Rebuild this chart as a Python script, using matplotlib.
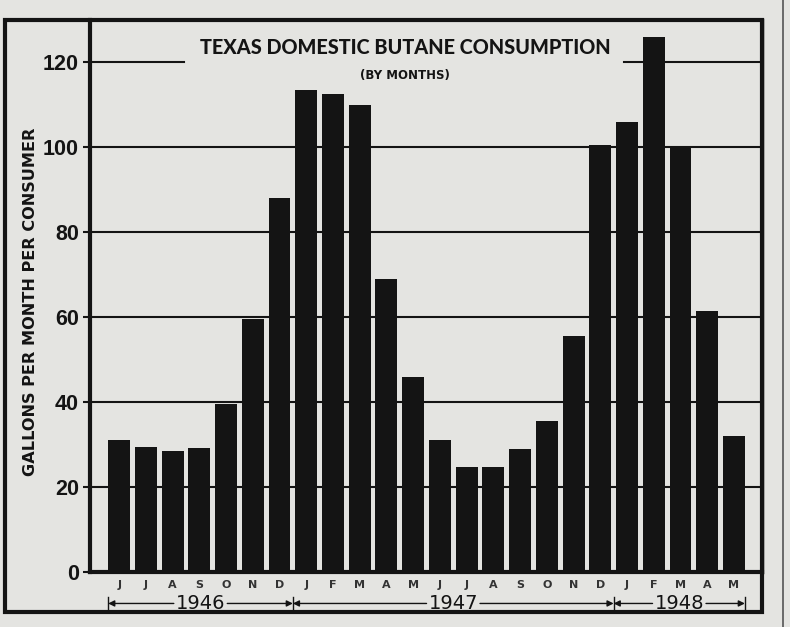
import numpy as np
import matplotlib.pyplot as plt
from matplotlib.patches import Rectangle
from matplotlib.lines import Line2D
import matplotlib.transforms as mtransforms

# monthly butane use, june 1946 - may 1948
months = ['J', 'J', 'A', 'S', 'O', 'N', 'D',
          'J', 'F', 'M', 'A', 'M', 'J', 'J', 'A', 'S', 'O', 'N', 'D',
          'J', 'F', 'M', 'A', 'M']
gallons = [31, 29.4, 28.5, 29.2, 39.5, 59.5, 88,
           113.5, 112.5, 110, 69, 46, 31, 24.8, 24.8, 29, 35.5, 55.5, 100.5,
           106, 126, 100, 61.5, 32]
years = ['1946', '1947', '1948']
year_counts = [7, 12, 5]
yticks = [0, 20, 40, 60, 80, 100, 120]

paper = '#e4e4e1'
ink = '#141414'
W, H = 790, 627

fig = plt.figure(figsize=(W / 100, H / 100), dpi=100)
fig.patch.set_facecolor(paper)
ax = fig.add_axes([90 / W, 1 - 572 / H, 672 / W, 552 / H])
ax.set_facecolor(paper)

x = np.arange(len(gallons))
bw = 0.82
ax.bar(x, gallons, width=bw, color=ink, zorder=3)

# grid lines (the 120 one is cut by the title)
for t in yticks[1:-1]:
    ax.axhline(t, color=ink, lw=1.5, zorder=1)
ax.axhline(yticks[-1], xmin=0, xmax=0.14, color=ink, lw=1.5, zorder=1)
ax.axhline(yticks[-1], xmin=0.795, xmax=1, color=ink, lw=1.5, zorder=1)

ax.set_xlim(-1.09, len(gallons) - 1 + 1.05)
ax.set_ylim(0, 130)
ax.set_yticks(yticks)
ax.set_yticklabels([str(t) for t in yticks], fontsize=15.5, fontweight='bold',
                   color=ink, family='Liberation Sans')
ax.tick_params(axis='y', length=5, width=1.5, color=ink, pad=3)
ax.set_xticks([])
for s in ['left', 'bottom']:
    ax.spines[s].set_linewidth(3)
    ax.spines[s].set_color(ink)
ax.spines['top'].set_visible(False)
ax.spines['right'].set_linewidth(2.5)
ax.spines['right'].set_color(ink)

ax.set_ylabel('GALLONS PER MONTH PER CONSUMER', fontsize=11.6, fontweight='bold',
              color=ink)
ax.yaxis.set_label_coords(-0.078, 0.49)

ax.text(0.469, 0.951, 'TEXAS DOMESTIC BUTANE CONSUMPTION', transform=ax.transAxes,
        ha='center', va='center', fontsize=14.3, fontweight='black', color=ink,
        family='Lato')
ax.text(0.469, 0.90, '(BY MONTHS)', transform=ax.transAxes, ha='center',
        va='center', fontsize=8.5, fontweight='bold', color=ink)

# month letters and year brackets under the axis
trans = mtransforms.blended_transform_factory(ax.transData, ax.transAxes)
for i, m in enumerate(months):
    ax.text(i, -0.024, m, transform=trans, ha='center', va='center',
            fontsize=8, fontweight='bold', color='#333333', clip_on=False)

edges = np.concatenate([[-bw / 2], np.cumsum(year_counts)[:-1] - 0.5,
                        [len(gallons) - 1 + bw / 2]])
yy = -0.057
for k, yr in enumerate(years):
    lo, hi = edges[k], edges[k + 1]
    mid = (lo + hi) / 2
    ax.text(mid, yy, yr, transform=trans, ha='center', va='center',
            fontsize=14, color=ink, clip_on=False)
    for end, start in [(lo, mid - 1.0), (hi, mid + 1.0)]:
        ax.annotate('', xy=(end, yy), xytext=(start, yy), xycoords=trans,
                    textcoords=trans,
                    arrowprops=dict(arrowstyle='-|>', lw=1, color=ink,
                                    mutation_scale=9, shrinkA=0, shrinkB=0))
for e in edges:
    ax.plot([e, e], [yy - 0.012, yy + 0.012], transform=trans, color=ink,
            lw=1, clip_on=False)

# outer frame of the newspaper graphic
fig.add_artist(Rectangle((5 / W, 1 - 612 / H), 757 / W, 592 / H,
                         transform=fig.transFigure, fill=False, lw=3, ec=ink))
fig.add_artist(Line2D([783 / W, 783 / W], [0, 1], transform=fig.transFigure,
                      color='#555555', lw=1.2))

fig.savefig('out.png', dpi=100, facecolor=paper)
